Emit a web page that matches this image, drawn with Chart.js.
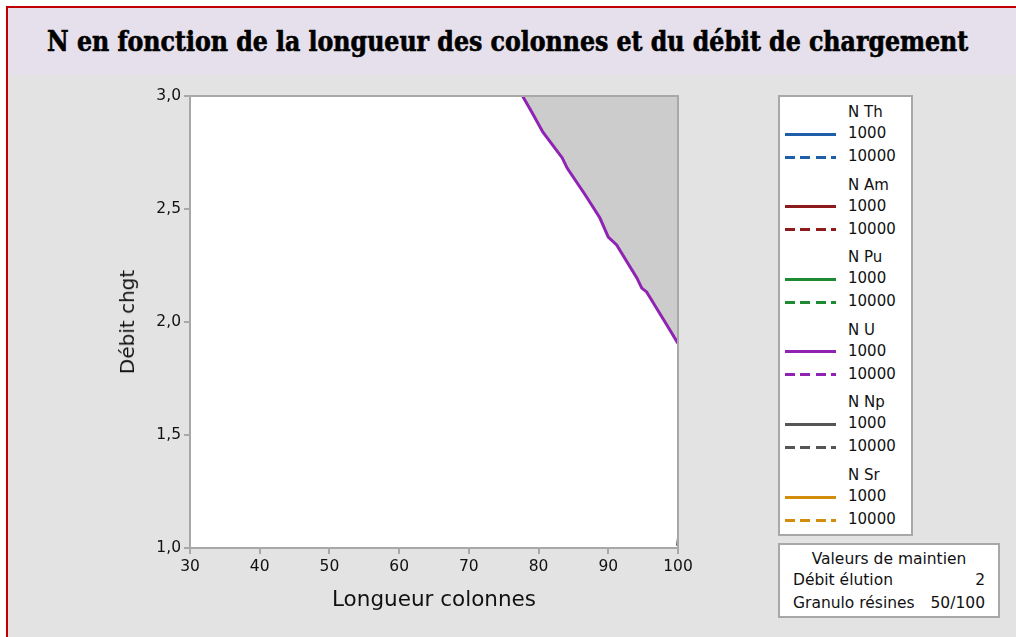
<!DOCTYPE html>
<html lang="fr">
<head>
<meta charset="utf-8">
<title>N en fonction de la longueur des colonnes</title>
<script src="https://cdn.jsdelivr.net/npm/chart.js@4.4.1/dist/chart.umd.min.js"></script>
<style>
    body { margin: 0; width: 1016px; height: 637px; background: #fff; overflow: hidden; font-family: "DejaVu Sans", sans-serif; color: #111; }
    .cadre { position: absolute; left: 6px; top: 6px; width: 1010px; height: 631px; background: #e3e3e3; border-left: 2px solid #c00000; border-top: 2px solid #c00000; box-sizing: border-box; }
    .bandeau { position: absolute; left: 8px; top: 8px; width: 1008px; height: 67px; background: #e5e0eb; }
    .titre { position: absolute; left: 0; top: 26px; width: 1016px; line-height: 32px; text-align: center; font-family: "DejaVu Serif Condensed", "DejaVu Serif", serif; font-weight: bold; font-size: 27px; white-space: nowrap; color: #000; -webkit-text-stroke: 0.6px #000; }
    .titre span { display: inline-block; transform-origin: center; }
    canvas { position: absolute; left: 0; top: 0; }
    .axe-x { position: absolute; left: 190px; width: 488px; top: 586px; text-align: center; font-size: 21.5px; }
    .axe-y { position: absolute; left: 127px; top: 322px; font-size: 20px; transform: translate(-50%, -50%) rotate(-90deg); white-space: nowrap; }
    .legende { position: absolute; left: 778px; top: 95px; width: 135px; height: 441px; background: #fff; border: 2px solid #a8a8a8; box-sizing: border-box; }
    .leg-txt { position: absolute; left: 68px; font-size: 15px; line-height: 18px; transform: translateY(-50%); white-space: nowrap; }
    .leg-trait { position: absolute; left: 5px; width: 51px; height: 3px; }
    .maintien { position: absolute; left: 778px; top: 543px; width: 222px; height: 75px; background: #fff; border: 2px solid #a8a8a8; box-sizing: border-box; font-size: 15.5px; }
    .maintien div { position: absolute; left: 13px; right: 13px; white-space: nowrap; }
    .maintien .droite { text-align: right; }
</style>
</head>
<body>
<div class="cadre"></div>
<div class="bandeau"></div>
<div class="titre"><span id="titre">N en fonction de la longueur des colonnes et du débit de chargement</span></div>
<canvas id="graphe" width="1016" height="637"></canvas>
<div class="axe-x">Longueur colonnes</div>
<div class="axe-y">Débit chgt</div>
<div class="legende" id="legende"></div>
<div class="maintien" id="maintien"></div>

<script>
// axes
const xTicks = [30, 40, 50, 60, 70, 80, 90, 100];
const yTicks = [1.0, 1.5, 2.0, 2.5, 3.0];
const yTickLabels = ["1,0", "1,5", "2,0", "2,5", "3,0"];

// contour N U = 1000
const uX = [77.7, 79.1, 80.6, 83.4, 84.1, 86.7, 88.8, 90.0, 91.2, 94.1, 94.8, 95.5, 98.4, 100];
const uY = [3.0, 2.925, 2.841, 2.726, 2.681, 2.562, 2.46, 2.376, 2.341, 2.195, 2.15, 2.133, 1.987, 1.905];

// contour N Np = 1000 (coin bas droit)
const npX = [99.85, 100];
const npY = [1.01, 1.045];

// légende
const elements = ["N Th", "N Am", "N Pu", "N U", "N Np", "N Sr"];
const couleurs = ["#1f5ea8", "#8e1b1b", "#1e8b32", "#9022b4", "#555555", "#d38d0d"];
const niveaux = ["1000", "10000"];

// valeurs de maintien
const maintienNoms = ["Débit élution", "Granulo résines"];
const maintienValeurs = ["2", "50/100"];

const toPoints = (xs, ys) => xs.map((x, i) => ({ x: x, y: ys[i] }));

const cadrePlot = {
    id: "cadrePlot",
    beforeDraw(chart) {
        const a = chart.chartArea;
        chart.ctx.save();
        chart.ctx.fillStyle = "#ffffff";
        chart.ctx.fillRect(a.left, a.top, a.right - a.left, a.bottom - a.top);
        chart.ctx.restore();
    },
    afterDatasetsDraw(chart) {
        const a = chart.chartArea;
        const ctx = chart.ctx;
        ctx.save();
        ctx.strokeStyle = "#a8a8a8";
        ctx.lineWidth = 2;
        ctx.beginPath();
        ctx.moveTo(a.left, a.top);
        ctx.lineTo(a.right, a.top);
        ctx.lineTo(a.right, a.bottom);
        ctx.stroke();
        ctx.restore();
    },
};

new Chart(document.getElementById("graphe").getContext("2d"), {
    type: "line",
    data: {
        datasets: [
            {
                label: "N U 1000",
                data: toPoints(uX, uY),
                borderColor: couleurs[3],
                borderWidth: 3,
                backgroundColor: "#cccccc",
                fill: "end",
                pointRadius: 0,
                tension: 0,
            },
            {
                label: "N Np 1000",
                data: toPoints(npX, npY),
                borderColor: couleurs[4],
                borderWidth: 2,
                fill: false,
                pointRadius: 0,
            },
        ],
    },
    options: {
        responsive: false,
        animation: false,
        layout: { padding: { top: 96, right: 338, left: 0, bottom: 0 } },
        plugins: {
            legend: { display: false },
            tooltip: { enabled: false },
        },
        scales: {
            x: {
                type: "linear",
                min: xTicks[0],
                max: xTicks[xTicks.length - 1],
                afterBuildTicks: (s) => { s.ticks = xTicks.map((v) => ({ value: v })); },
                afterFit: (s) => { s.height = 89; },
                ticks: {
                    color: "#111",
                    font: { family: "'DejaVu Sans'", size: 15.5 },
                    padding: 4,
                    maxRotation: 0,
                    callback: (v) => String(v),
                },
                grid: { drawOnChartArea: false, tickLength: 6, color: "#a8a8a8", lineWidth: 2 },
                border: { color: "#a8a8a8", width: 2 },
            },
            y: {
                type: "linear",
                min: yTicks[0],
                max: yTicks[yTicks.length - 1],
                afterBuildTicks: (s) => { s.ticks = yTicks.map((v) => ({ value: v })); },
                afterFit: (s) => { s.width = 190; },
                ticks: {
                    color: "#111",
                    font: { family: "'DejaVu Sans'", size: 15.5 },
                    padding: 3,
                    callback: (v) => yTickLabels[yTicks.indexOf(v)],
                },
                grid: { drawOnChartArea: false, tickLength: 6, color: "#a8a8a8", lineWidth: 2 },
                border: { color: "#a8a8a8", width: 2 },
            },
        },
    },
    plugins: [cadrePlot],
});

// légende : un en-tête par élément, puis trait plein (1000) et pointillé (10000)
const legende = document.getElementById("legende");
elements.forEach((nom, i) => {
    const base = 15 + i * 72.6;
    const entete = document.createElement("div");
    entete.className = "leg-txt";
    entete.style.top = base + "px";
    entete.textContent = nom;
    legende.appendChild(entete);
    niveaux.forEach((niv, j) => {
        const yc = base + 21 + j * 23;
        const txt = document.createElement("div");
        txt.className = "leg-txt";
        txt.style.top = yc + "px";
        txt.textContent = niv;
        legende.appendChild(txt);
        const trait = document.createElement("div");
        trait.className = "leg-trait";
        trait.style.top = (yc + 1 - 1.5) + "px";
        trait.style.background = j === 0
            ? couleurs[i]
            : "repeating-linear-gradient(to right, " + couleurs[i] + " 0 10px, transparent 10px 15.5px)";
        legende.appendChild(trait);
    });
});

// bloc des valeurs de maintien
const maintien = document.getElementById("maintien");
const enTete = document.createElement("div");
enTete.style.top = "5px";
enTete.style.textAlign = "center";
enTete.textContent = "Valeurs de maintien";
maintien.appendChild(enTete);
maintienNoms.forEach((nom, i) => {
    const g = document.createElement("div");
    g.style.top = (26 + i * 23) + "px";
    g.textContent = nom;
    maintien.appendChild(g);
    const d = document.createElement("div");
    d.className = "droite";
    d.style.top = (26 + i * 23) + "px";
    d.textContent = maintienValeurs[i];
    maintien.appendChild(d);
});

// titre étiré sur la largeur du bandeau
const titre = document.getElementById("titre");
titre.style.transform = "scaleX(" + (921 / titre.offsetWidth) + ")";
</script>
</body>
</html>
